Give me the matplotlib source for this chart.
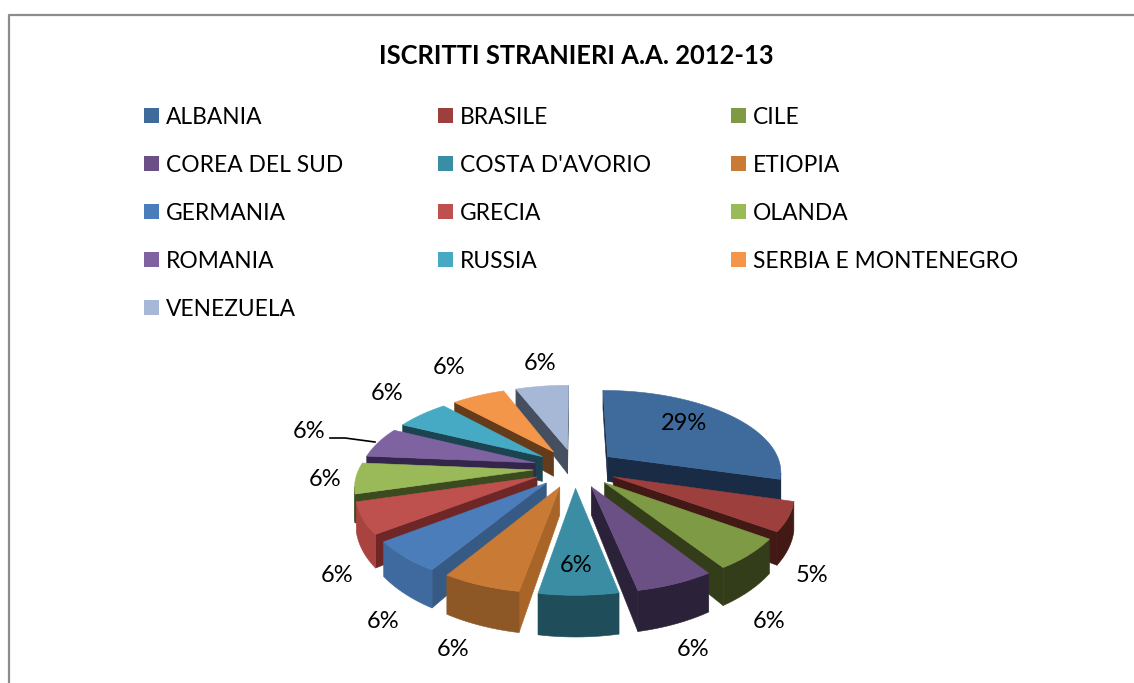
#!/usr/bin/env python3
# -*- coding: utf-8 -*-

import numpy as np
import matplotlib
matplotlib.use('Agg')
import matplotlib.pyplot as plt
from matplotlib.patches import Rectangle

plt.rcParams['font.family'] = ['Lato', 'DejaVu Sans']

title = 'ISCRITTI STRANIERI A.A. 2012-13'
countries = ['ALBANIA', 'BRASILE', 'CILE', 'COREA DEL SUD', "COSTA D'AVORIO", 'ETIOPIA',
             'GERMANIA', 'GRECIA', 'OLANDA', 'ROMANIA', 'RUSSIA', 'SERBIA E MONTENEGRO',
             'VENEZUELA']
percent = [29.49, 5.49, 5.9, 5.9, 5.9, 5.9, 5.9, 5.9, 5.9, 5.9, 5.9, 5.9, 5.9]

top_colors = ['#3f6a9c', '#9c3f3d', '#7e9a45', '#6a5084', '#3b8da4', '#c97a35', '#4b7dba',
              '#be504d', '#9aba59', '#7f63a1', '#47aac5', '#f4964a', '#a7b7d6']
side_colors = ['#1a2b45', '#421915', '#333d1a', '#2b2139', '#1f4d5a', '#a96428', '#375a84',
               '#6e2726', '#3c4a1f', '#33264a', '#1c4450', '#653c1b', '#454f60']
outer_colors = ['#1a2b45', '#421915', '#333d1a', '#2b2139', '#1f4d5a', '#8e5826', '#3f6a9f',
                '#a8433f', '#3c4a1f', '#33264a', '#1c4450', '#653c1b', '#454f60']

# where the percent labels sit (pixels)
label_xy = [(684, 424), (812, 576), (769, 622), (693, 650), (576, 565), (453, 650), (383, 622),
            (337, 576), (325, 480), (309, 432), (387, 394), (449, 368), (540, 364)]

W, H = 1134, 683
CX, CY = 575, 468      # pie centre
RX, RY = 174, 81       # radii on screen
PERSP = 0.17           # front bigger than back
EXPLODE = 0.24
DEPTH = 26


def project(u, v, z=0.0):
    """pie plane (u right, v to the viewer) to screen pixels, z is downwards"""
    s = 1.0 / (1.0 - PERSP * v)
    return CX + RX * u * s, CY + RY * v * s + DEPTH * z * s ** 2


def area(pts):
    n = len(pts)
    return sum(pts[i][0] * pts[(i + 1) % n][1] - pts[(i + 1) % n][0] * pts[i][1] for i in range(n))


def face(ax, pts, color):
    ax.fill([p[0] for p in pts], [p[1] for p in pts], facecolor=color, edgecolor=color, linewidth=0.4)


def draw_slice(ax, a0, a1, top, side, outer):
    mid = (a0 + a1) / 2
    ou, ov = EXPLODE * np.sin(mid), -EXPLODE * np.cos(mid)
    angles = np.linspace(a0, a1, max(int((a1 - a0) * 40), 6))
    us = ou + np.sin(angles)
    vs = ov - np.cos(angles)

    # cut faces
    for a, sign in ((a0, -1), (a1, 1)):
        u, v = ou + np.sin(a), ov - np.cos(a)
        pts = [project(ou, ov), project(u, v), project(u, v, 1), project(ou, ov, 1)]
        if area(pts) * sign > 0:
            face(ax, pts, side)

    # rim, only the part that looks at the viewer
    seen = [i for i in range(len(angles) - 1)
            if area([project(us[i], vs[i]), project(us[i + 1], vs[i + 1]),
                     project(us[i + 1], vs[i + 1], 1), project(us[i], vs[i], 1)]) < 0]
    if seen:
        idx = list(range(seen[0], seen[-1] + 2))
        upper = [project(us[i], vs[i]) for i in idx]
        lower = [project(us[i], vs[i], 1) for i in reversed(idx)]
        face(ax, upper + lower, outer)

    face(ax, [project(ou, ov)] + [project(u, v) for u, v in zip(us, vs)], top)


def main():
    fig = plt.figure(figsize=(W / 100, H / 100), dpi=100)
    ax = fig.add_axes([0, 0, 1, 1])
    ax.set_xlim(0, W)
    ax.set_ylim(H, 0)
    ax.axis('off')

    # chart frame
    ax.plot([9, 9, W + 5], [H + 5, 15, 15], color='#8c8c8c', linewidth=1.6)

    ax.text(576, 56, title, ha='center', va='center', fontsize=18.4, fontweight='bold', color='black')

    # legend, three columns filled row by row
    for i, name in enumerate(countries):
        x = [144, 438, 731][i % 3]
        y = 115 + 48 * (i // 3)
        ax.add_patch(Rectangle((x, y - 7.5), 15, 15, facecolor=top_colors[i], edgecolor='none'))
        ax.text(x + 22, y + 2, name, ha='left', va='center', fontsize=16.4, color='black')

    # slices, back ones first
    edges = np.cumsum([0] + percent) / sum(percent) * 2 * np.pi
    order = sorted(range(len(percent)), key=lambda i: -np.cos((edges[i] + edges[i + 1]) / 2))
    for i in order:
        draw_slice(ax, edges[i], edges[i + 1], top_colors[i], side_colors[i], outer_colors[i])

    for p, (x, y) in zip(percent, label_xy):
        ax.text(x, y, f'{round(p)}%', ha='center', va='center', fontsize=17, color='black')

    # leader line of the ROMANIA label
    ax.plot([330, 345, 375], [438, 438, 442], color='black', linewidth=1.2)

    fig.savefig('out.png', dpi=100)
    plt.close(fig)


if __name__ == "__main__":
    main()
